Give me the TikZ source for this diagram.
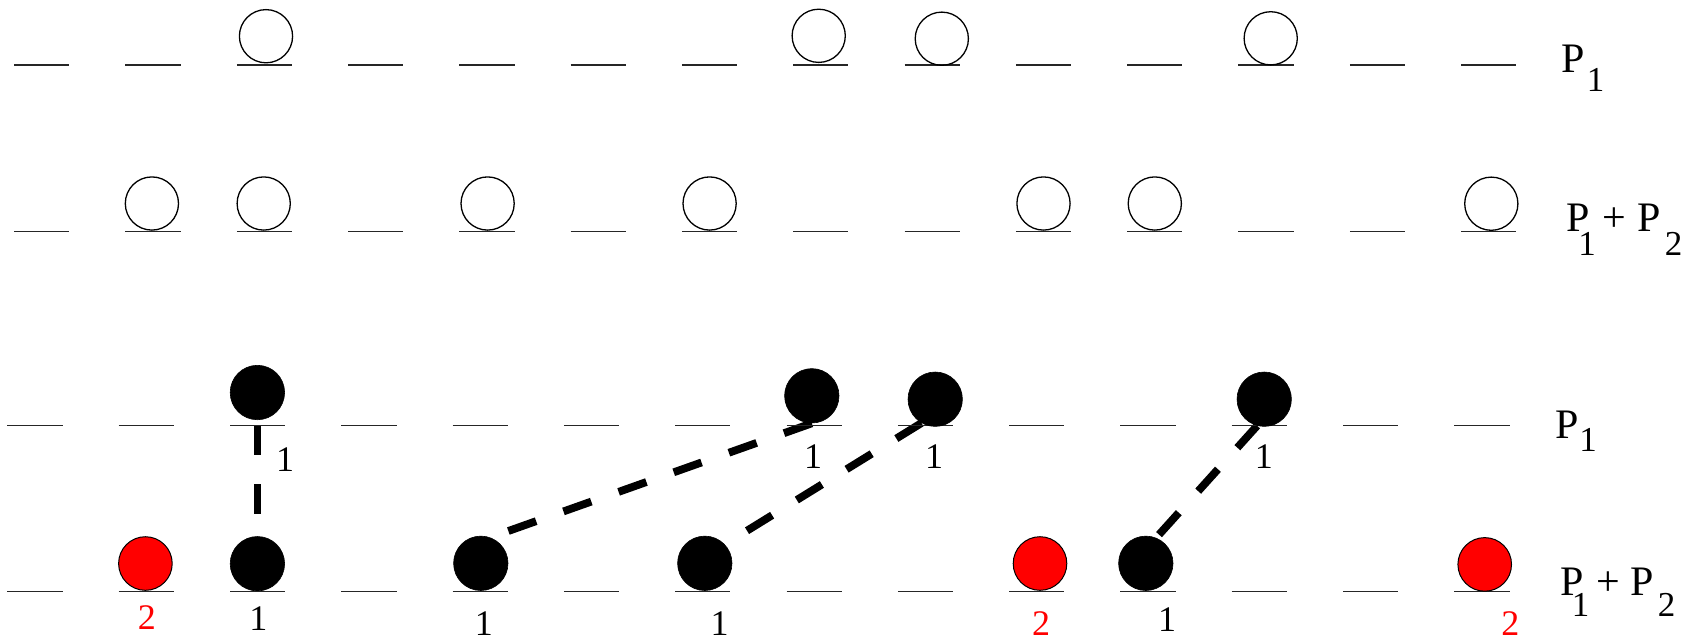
\documentclass[tikz,border=0pt]{standalone}
\usepackage{fontspec}
\setmainfont{Liberation Serif}
\usetikzlibrary{backgrounds}
\begin{document}
\begin{tikzpicture}[x=0.5pt,y=-0.5pt,
  seg/.style={line width=0.75pt, draw=black!85},
  opencirc/.style={circle, draw=black, line width=0.65pt, minimum size=26.6pt, inner sep=0pt},
  blackcirc/.style={circle, fill=black, draw=black, line width=0.3pt, minimum size=27.2pt, inner sep=0pt},
  redcirc/.style={circle, fill=red, draw=black, line width=0.5pt, minimum size=26.8pt, inner sep=0pt},
  link/.style={line width=3.9pt, dash pattern=on 14.75pt off 14.5pt},
  lab/.style={anchor=base, inner sep=0pt, font=\fontsize{18}{18}\selectfont},
  redlab/.style={lab, text=red},
  pl/.style={anchor=base west, inner sep=0pt, font=\fontsize{21}{21}\selectfont},
  sub/.style={anchor=base, inner sep=0pt, font=\fontsize{17.5}{17.5}\selectfont},
]
\useasboundingbox (0,0) rectangle (1689,639);

% horizontal level segments
\foreach \i in {0,...,13}{
  \draw[seg] ({41.75+111.3*\i-27.6},65) -- ++(55.2,0);
  \draw[seg] ({41.75+111.3*\i-27.6},231.5) -- ++(55.2,0);
  \draw[seg] ({35+111.3*\i-27.6},425.5) -- ++(55.2,0);
  \draw[seg] ({35+111.3*\i-27.6},591.7) -- ++(55.2,0);
}

% row 1: open circles
\node[opencirc] (u2) at (266,36.2) {};
\node[opencirc] (u7) at (818.7,35.8) {};
\node[opencirc] (u8) at (941.8,38.7) {};
\node[opencirc] (u11) at (1270.7,38.3) {};

% row 2: open circles
\node[opencirc] (v1) at (151.9,203.5) {};
\node[opencirc] (v2) at (263.7,203.5) {};
\node[opencirc] (v4) at (487.6,203.5) {};
\node[opencirc] (v6) at (709.6,203.5) {};
\node[opencirc] (v9) at (1043.5,203.5) {};
\node[opencirc] (v10) at (1154.8,203.5) {};
\node[opencirc] (v13) at (1491.3,203.7) {};

% row 3: black circles
\node[blackcirc] (a2) at (257.4,392.5) {};
\node[blackcirc] (a7) at (811.8,395.8) {};
\node[blackcirc] (a8) at (935.2,399.2) {};
\node[blackcirc] (a11) at (1264.2,399.2) {};

% row 4
\node[redcirc] (b1) at (145.4,563.5) {};
\node[blackcirc] (b2) at (257.4,563.7) {};
\node[blackcirc] (b4) at (480.8,563.3) {};
\node[blackcirc] (b6) at (704.8,563.3) {};
\node[redcirc] (b9) at (1040,563.5) {};
\node[blackcirc] (b10) at (1145.8,563.3) {};
\node[redcirc] (b13) at (1484.7,564.4) {};

% dashed connectors (behind the circles)
\begin{scope}[on background layer]
  \draw[link, shorten <=2.85pt] (a2.south) -- (b2.north);
  \draw[link, shorten >=6pt] (a7.south) -- (b4.149);
  \draw[link, shorten >=6pt] (a8.240) -- (b6.200);
  \draw[link, shorten >=6pt] (a11.255) -- (b10.208);
\end{scope}

% labels row 3
\node[lab] (la2) at (285,471.7) {1};
\node[lab] (la7) at (813,468.3) {1};
\node[lab] (la8) at (934,468.3) {1};
\node[lab] (la11) at (1263.8,468.3) {1};

% labels row 4
\node[redlab] (lb1) at (146.8,629.3) {2};
\node[lab] (lb2) at (258.3,630) {1};
\node[lab] (lb4) at (483.8,635.5) {1};
\node[lab] (lb6) at (719.5,635.5) {1};
\node[redlab] (lb9) at (1041,635.5) {2};
\node[lab] (lb10) at (1167,631.7) {1};
\node[redlab] (lb13) at (1510.3,635.5) {2};

% row names
\node[pl] (n1p) at (1561,72.7) {P};
\node[sub] (n1s) at (1595.5,91.7) {1};

\node[pl] (n2p) at (1566,231) {P};
\node[sub] (n2s) at (1587,255) {1};
\node[pl] (n2plus) at (1602,231) {+};
\node[pl] (n2q) at (1637,231) {P};
\node[sub] (n2t) at (1673.5,255) {2};

\node[pl] (n3p) at (1555,438.3) {P};
\node[sub] (n3s) at (1588,451.7) {1};

\node[pl] (n4p) at (1560,595) {P};
\node[sub] (n4s) at (1580.5,616.7) {1};
\node[pl] (n4plus) at (1596,595) {+};
\node[pl] (n4q) at (1630,595) {P};
\node[sub] (n4t) at (1666.7,616.7) {2};
\end{tikzpicture}
\end{document}
